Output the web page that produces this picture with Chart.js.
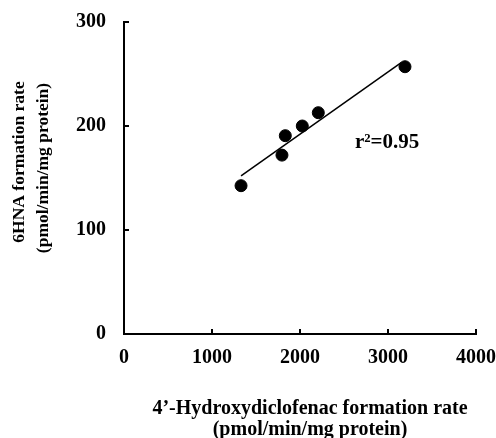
<!DOCTYPE html>
<html>
<head>
<meta charset="utf-8">
<script src="https://cdn.jsdelivr.net/npm/chart.js@4"></script>
<style>
  html, body { margin: 0; padding: 0; background: #fff; }
  #wrap { width: 496px; height: 438px; }
</style>
</head>
<body>
<div id="wrap"><canvas id="c" width="496" height="438"></canvas></div>
<script>
// Measured formation rates (pmol/min/mg protein)
const hydroxyRate = [1330, 1795, 1833, 2026, 2208, 3193];
const hnaRate = [142.6, 172, 190.7, 200, 212.8, 257];
// Regression line endpoints
const fitX = [1330, 3150];
const fitY = [152, 261];
const xTicks = [0, 1000, 2000, 3000, 4000];
const yTicks = [0, 100, 200, 300];
const rSquared = 'r\u00b2=0.95';
const xTitle = ['4\u2019-Hydroxydiclofenac formation rate', '(pmol/min/mg protein)'];
const yTitle = ['6HNA formation rate', '(pmol/min/mg protein)'];

const FONT = '"Liberation Serif", "Times New Roman", serif';

const axisPlugin = {
  id: 'axisDecor',
  afterDraw(chart) {
    const ctx = chart.ctx;
    const xs = chart.scales.x, ys = chart.scales.y;
    const left = xs.getPixelForValue(0), bottom = ys.getPixelForValue(0);
    ctx.save();
    ctx.strokeStyle = '#000';
    ctx.lineWidth = 2;
    // inward tick marks
    xTicks.forEach(v => {
      if (v === 0) return;
      const px = Math.round(xs.getPixelForValue(v));
      ctx.beginPath(); ctx.moveTo(px, bottom); ctx.lineTo(px, bottom - 5); ctx.stroke();
    });
    yTicks.forEach(v => {
      if (v === 0) return;
      const py = Math.round(ys.getPixelForValue(v));
      ctx.beginPath(); ctx.moveTo(left, py); ctx.lineTo(left + 5, py); ctx.stroke();
    });
    ctx.fillStyle = '#000';
    // r-squared annotation
    ctx.font = 'bold 21px ' + FONT;
    ctx.textAlign = 'left';
    ctx.textBaseline = 'middle';
    ctx.fillText(rSquared, xs.getPixelForValue(2625), ys.getPixelForValue(184));
    // axis titles
    ctx.font = 'bold 20px ' + FONT;
    ctx.textAlign = 'center';
    ctx.textBaseline = 'alphabetic';
    ctx.fillText(xTitle[0], 310, 414);
    ctx.fillText(xTitle[1], 310, 435);
    ctx.font = 'bold 17.5px ' + FONT;
    ctx.textBaseline = 'middle';
    ctx.save();
    ctx.translate(19, 162);
    ctx.rotate(-Math.PI / 2);
    ctx.fillText(yTitle[0], 0, 0);
    ctx.restore();
    ctx.save();
    ctx.translate(43, 168);
    ctx.rotate(-Math.PI / 2);
    ctx.fillText(yTitle[1], 0, 0);
    ctx.restore();
    ctx.restore();
  }
};

new Chart(document.getElementById('c'), {
  type: 'scatter',
  data: {
    datasets: [
      {
        label: 'data',
        data: hydroxyRate.map((x, i) => ({ x, y: hnaRate[i] })),
        backgroundColor: '#000',
        borderColor: '#000',
        pointRadius: 6,
        pointHoverRadius: 6,
        order: 1
      },
      {
        label: 'fit',
        type: 'line',
        data: fitX.map((x, i) => ({ x, y: fitY[i] })),
        borderColor: '#000',
        borderWidth: 1.5,
        pointRadius: 0,
        fill: false,
        order: 2
      }
    ]
  },
  options: {
    responsive: false,
    animation: false,
    layout: { padding: { top: 22, right: 20, left: 0, bottom: 0 } },
    plugins: { legend: { display: false }, tooltip: { enabled: false } },
    scales: {
      x: {
        type: 'linear',
        min: 0, max: 4000,
        afterBuildTicks: s => { s.ticks = xTicks.map(v => ({ value: v })); },
        afterFit: s => { s.height = 104; s.paddingLeft = 0; s.paddingRight = 0; },
        grid: { display: false },
        border: { color: '#000', width: 2 },
        ticks: { color: '#000', padding: 4, maxRotation: 0, callback: v => String(v),
                 font: { family: FONT, size: 20, weight: 'bold' } }
      },
      y: {
        type: 'linear',
        min: 0, max: 300,
        afterBuildTicks: s => { s.ticks = yTicks.map(v => ({ value: v })); },
        afterFit: s => { s.width = 124; s.paddingTop = 0; s.paddingBottom = 0; },
        grid: { display: false },
        border: { color: '#000', width: 2 },
        ticks: { color: '#000', padding: 10, callback: v => String(v),
                 font: { family: FONT, size: 20, weight: 'bold' } }
      }
    }
  },
  plugins: [axisPlugin]
});
</script>
</body>
</html>
